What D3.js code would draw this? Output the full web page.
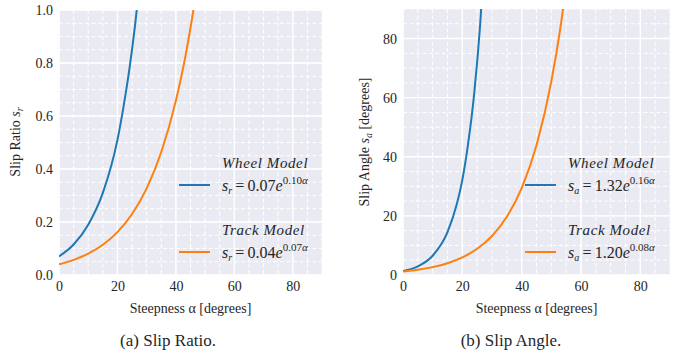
<!DOCTYPE html>
<html>
<head>
<meta charset="utf-8">
<script src="https://cdn.jsdelivr.net/npm/d3@7"></script>
<style>
body{margin:0;background:#fff;}
</style>
</head>
<body>
<script>
// values
var ratioWheelAlpha = [0,5,10,15,20,22,24,26,28];
var ratioWheel = [0.07,0.115,0.19,0.31,0.51,0.63,0.77,0.94,1.15];
var ratioTrackAlpha = [0,5,10,15,20,25,30,35,40,43,46,48];
var ratioTrack = [0.04,0.057,0.081,0.114,0.162,0.23,0.327,0.464,0.658,0.81,1.0,1.15];

var angleWheelAlpha = [0,5,10,15,18,20,22,24,26,28];
var angleWheel = [1.32,2.93,6.52,14.5,23.5,32.2,44.8,61.4,84.6,116];
var angleTrackAlpha = [0,5,10,15,20,25,30,35,40,45,50,53,56];
var angleTrack = [1.2,1.79,2.67,3.98,5.94,8.87,13.2,19.7,29.4,43.9,65.5,83.3,105.9];

var xTicks = [0,20,40,60,80];
var ratioTicks = [0,0.2,0.4,0.6,0.8,1.0];
var angleTicks = [0,20,40,60,80];

var legendNames = ['Wheel Model','Track Model'];
var ratioCoef = [['0.07','0.10'],['0.04','0.07']];
var angleCoef = [['1.32','0.16'],['1.20','0.08']];

var colors = ['#1f77b4','#ff7f0e'];
var serif = "'Liberation Serif','DejaVu Serif',serif";

var svg = d3.select('body')
			.append('svg')
			.attr('width',673)
			.attr('height',354);

function panel(opt){
	var x = d3.scaleLinear().domain([0,90]).range([opt.left,opt.right]);
	var y = d3.scaleLinear().domain([0,opt.ymax]).range([275,opt.top]);
	var g = svg.append('g');

	g.append('rect')
		.attr('x',opt.left).attr('y',opt.top)
		.attr('width',opt.right-opt.left).attr('height',275-opt.top)
		.attr('fill','#eaeaf2');

	// minor grid
	g.selectAll('.mx').data(d3.range(0,91,5)).enter().append('line')
		.attr('x1',d=>x(d)).attr('x2',d=>x(d))
		.attr('y1',opt.top).attr('y2',275)
		.attr('stroke','#fff').attr('stroke-width',1).attr('stroke-dasharray','4,2.5');
	g.selectAll('.my').data(opt.minorY).enter().append('line')
		.attr('y1',d=>y(d)).attr('y2',d=>y(d))
		.attr('x1',opt.left).attr('x2',opt.right)
		.attr('stroke','#fff').attr('stroke-width',1).attr('stroke-dasharray','4,2.5');
	// major grid
	g.selectAll('.gx').data(xTicks).enter().append('line')
		.attr('x1',d=>x(d)).attr('x2',d=>x(d))
		.attr('y1',opt.top).attr('y2',275)
		.attr('stroke','#fff').attr('stroke-width',1.4);
	g.selectAll('.gy').data(opt.yTicks).enter().append('line')
		.attr('y1',d=>y(d)).attr('y2',d=>y(d))
		.attr('x1',opt.left).attr('x2',opt.right)
		.attr('stroke','#fff').attr('stroke-width',1.4);

	var xAxis = g.append('g')
		.attr('transform','translate(0,275)')
		.call(d3.axisBottom(x).tickValues(xTicks).tickSize(0).tickPadding(6).tickFormat(d3.format('d')));
	var yAxis = g.append('g')
		.attr('transform','translate('+opt.left+',0)')
		.call(d3.axisLeft(y).tickValues(opt.yTicks).tickSize(0).tickPadding(6).tickFormat(opt.fmt));
	[xAxis,yAxis].forEach(function(a){
		a.select('.domain').remove();
		a.attr('font-family',null).attr('font-size',null);
		a.selectAll('text').attr('font-size',14).attr('fill','#262626');
	});

	var clipId = 'clip'+opt.left;
	svg.append('clipPath').attr('id',clipId).append('rect')
		.attr('x',opt.left).attr('y',opt.top)
		.attr('width',opt.right-opt.left).attr('height',275-opt.top);

	var line = d3.line().x(d=>x(d[0])).y(d=>y(d[1])).curve(d3.curveMonotoneX);
	opt.series.forEach(function(s,i){
		g.append('path')
			.datum(d3.zip(s[0],s[1]))
			.attr('clip-path','url(#'+clipId+')')
			.attr('fill','none')
			.attr('stroke',colors[i])
			.attr('stroke-width',2)
			.attr('d',line);
	});

	// axis titles
	g.append('text')
		.attr('x',(opt.left+opt.right)/2).attr('y',313)
		.attr('text-anchor','middle').attr('font-size',14)
		.text('Steepness α [degrees]');
	var yl = g.append('text')
		.attr('transform','translate('+opt.ylx+',142) rotate(-90)')
		.attr('text-anchor','middle').attr('font-size',14);
	yl.append('tspan').text(opt.ylabel[0]);
	yl.append('tspan').attr('font-style','italic').text(' s');
	yl.append('tspan').attr('font-style','italic').attr('font-size',10).attr('dy',3).text(opt.ylabel[1]);
	if(opt.ylabel[2]) yl.append('tspan').attr('dy',-3).text(opt.ylabel[2]);

	// legend
	legendNames.forEach(function(name,i){
		var ty = 168 + i*67;
		g.append('text')
			.attr('x',opt.legX).attr('y',ty)
			.attr('font-style','italic').attr('font-size',15)
			.attr('letter-spacing',0.6)
			.text(name);
		g.append('line')
			.attr('x1',opt.legX-43).attr('x2',opt.legX-12)
			.attr('y1',ty+17).attr('y2',ty+17)
			.attr('stroke',colors[i]).attr('stroke-width',2);
		var f = g.append('text')
			.attr('x',opt.legX).attr('y',ty+23)
			.attr('font-size',16);
		f.append('tspan').attr('font-style','italic').text('s');
		f.append('tspan').attr('font-style','italic').attr('font-size',10).attr('dy',3).text(opt.ylabel[1]);
		f.append('tspan').attr('dy',-3).text('\u2009=\u2009'+opt.coef[i][0]);
		f.append('tspan').attr('font-style','italic').text('e');
		f.append('tspan').attr('font-size',11).attr('dy',-7).text(opt.coef[i][1]);
		f.append('tspan').attr('font-size',11).attr('font-style','italic').text('α');
	});

	g.append('text')
		.attr('x',opt.capX).attr('y',346)
		.attr('text-anchor','middle').attr('font-size',17)
		.text(opt.caption);
}

panel({
	left:59,right:322,top:10,ymax:1.0,
	yTicks:ratioTicks,minorY:d3.range(0,1.001,0.05),
	fmt:d3.format('.1f'),
	series:[[ratioWheelAlpha,ratioWheel],[ratioTrackAlpha,ratioTrack]],
	ylabel:['Slip Ratio','r'],ylx:20,
	coef:ratioCoef,legX:222,capX:168,
	caption:'(a) Slip Ratio.'
});
panel({
	left:403,right:670,top:9,ymax:90,
	yTicks:angleTicks,minorY:d3.range(0,91,5),
	fmt:d3.format('d'),
	series:[[angleWheelAlpha,angleWheel],[angleTrackAlpha,angleTrack]],
	ylabel:['Slip Angle','a',' [degrees]'],ylx:369,
	coef:angleCoef,legX:568,capX:511,
	caption:'(b) Slip Angle.'
});

svg.selectAll('text').style('font-family',serif).style('fill','#262626');
</script>
</body>
</html>
